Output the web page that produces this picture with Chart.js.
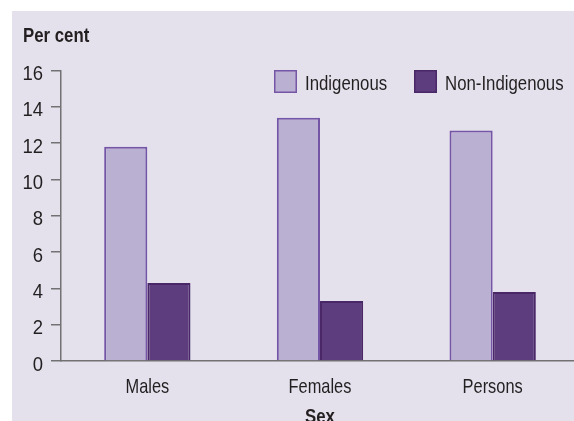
<!DOCTYPE html>
<html>
<head>
<meta charset="utf-8">
<script src="https://cdn.jsdelivr.net/npm/chart.js@4"></script>
<style>
  html, body { margin: 0; padding: 0; background: #fff; }
  #wrap { width: 574px; height: 421px; overflow: hidden; }
  canvas { display: block; }
</style>
</head>
<body>
<!-- the plot runs a few px past the right edge in the original, so the canvas is wider than the frame -->
<div id="wrap"><canvas id="chart" width="579" height="421"></canvas></div>
<script>
var categories = ["Males", "Females", "Persons"];
var indigenous = [11.8, 13.4, 12.7];
var nonIndigenous = [4.3, 3.3, 3.8];
var seriesNames = ["Indigenous", "Non-Indigenous"];
var yTicks = [0, 2, 4, 6, 8, 10, 12, 14, 16];

var FONT = "'Liberation Sans', Arial, sans-serif";
var TEXT = "#231f20";
var AXIS = "#727272";

// the original uses a tall narrow face, so squeeze the text sideways
function narrowText(ctx, text, x, y, squeeze, align) {
    ctx.save();
    ctx.translate(x, y);
    ctx.scale(squeeze, 1);
    ctx.textAlign = align || "left";
    ctx.fillText(text, 0, 0);
    ctx.restore();
}

// panel background, axis labels, "Per cent", "Sex" and legend
var decor = {
    id: "decor",
    beforeDraw: function (chart) {
        var ctx = chart.ctx;
        ctx.save();
        ctx.fillStyle = "#fff";
        ctx.fillRect(0, 0, chart.width, chart.height);
        ctx.fillStyle = "#e4e1ed";
        ctx.fillRect(12, 11, chart.width - 12, chart.height - 11);
        ctx.restore();
    },
    afterDraw: function (chart) {
        var ctx = chart.ctx;
        var xs = chart.scales.x, ys = chart.scales.y;
        ctx.save();
        ctx.fillStyle = TEXT;
        ctx.textBaseline = "alphabetic";

        ctx.font = "21px " + FONT;
        ys.ticks.forEach(function (t) {
            narrowText(ctx, String(t.value), 43, ys.getPixelForValue(t.value) + 9.5, 0.88, "right");
        });
        xs.ticks.forEach(function (t, i) {
            narrowText(ctx, xs.getLabelForValue(t.value), xs.getPixelForTick(i), 392.5, 0.78, "center");
        });

        ctx.font = "bold 21px " + FONT;
        narrowText(ctx, "Per cent", 23, 42, 0.8);
        narrowText(ctx, "Sex", xs.getPixelForTick(1), 423, 0.8, "center");

        var items = [{ x: 274, tx: 305 }, { x: 414, tx: 445 }];
        chart.data.datasets.forEach(function (ds, i) {
            var it = items[i];
            ctx.fillStyle = ds.backgroundColor;
            ctx.fillRect(it.x, 70, 23, 23);
            ctx.strokeStyle = ds.borderColor;
            ctx.lineWidth = 1.5;
            ctx.strokeRect(it.x + 0.75, 70.75, 21.5, 21.5);
            ctx.fillStyle = TEXT;
            ctx.font = "20px " + FONT;
            narrowText(ctx, ds.label, it.tx, 89.5, 0.84);
        });
        ctx.restore();
    }
};

var ctx = document.getElementById("chart").getContext("2d");
var chart = new Chart(ctx, {
    type: "bar",
    data: {
        labels: categories,
        datasets: [
            {
                label: seriesNames[0],
                data: indigenous,
                backgroundColor: "#bab0d1",
                borderColor: "#7555a6",
                borderWidth: 2
            },
            {
                label: seriesNames[1],
                data: nonIndigenous,
                backgroundColor: "#5d3d7e",
                borderColor: "#4a2868",
                borderWidth: 2
            }
        ]
    },
    options: {
        responsive: false,
        animation: false,
        layout: { padding: { left: 0, right: 0, top: 70.6, bottom: 0 } },
        datasets: { bar: { categoryPercentage: 0.5, barPercentage: 1.0 } },
        plugins: {
            legend: { display: false },
            tooltip: { enabled: false }
        },
        scales: {
            x: {
                afterFit: function (scale) { scale.height = 60; },
                grid: { display: false, drawTicks: false },
                border: { display: true, color: AXIS, width: 1.5 },
                ticks: { display: false }
            },
            y: {
                min: 0,
                max: 16,
                afterFit: function (scale) { scale.width = 61; },
                afterBuildTicks: function (scale) {
                    scale.ticks = yTicks.map(function (v) { return { value: v }; });
                },
                grid: { drawOnChartArea: false, drawTicks: true, tickLength: 10, color: AXIS, lineWidth: 1.5 },
                border: { display: true, color: AXIS, width: 1.5 },
                ticks: { display: false }
            }
        }
    },
    plugins: [decor]
});
</script>
</body>
</html>
